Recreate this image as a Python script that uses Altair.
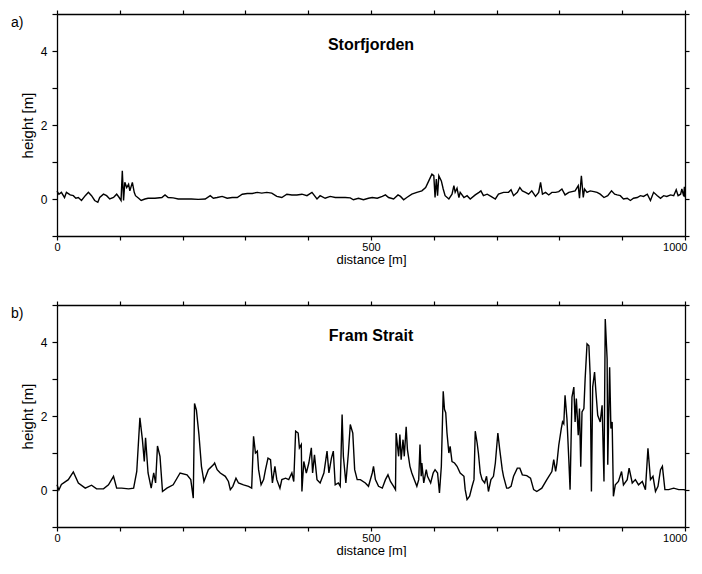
import altair as alt
import pandas as pd

# ---- Panel a: Storfjorden ----
dist_a = [0, 3, 7, 12, 15, 21, 26, 30, 34, 39,
          45, 50, 55, 60, 65, 68, 74, 79, 84, 90,
          95, 99, 102, 104, 106, 108, 111, 114, 116, 120,
          123, 125, 130, 134, 140, 145, 156, 167, 172, 177,
          185, 193, 204, 214, 225, 236, 244, 249, 255, 263,
          271, 279, 287, 295, 303, 311, 319, 326, 334, 342,
          350, 358, 366, 374, 382, 390, 398, 406, 414, 419,
          427, 435, 443, 451, 459, 467, 472, 480, 488, 496,
          502, 510, 518, 523, 528, 536, 543, 547, 552, 557,
          565, 573, 581, 587, 592, 597, 600, 602, 604, 606,
          608, 612, 615, 618, 624, 629, 632, 634, 637, 640,
          642, 648, 653, 658, 666, 672, 675, 679, 685, 691,
          698, 703, 711, 719, 723, 727, 733, 737, 741, 746,
          751, 756, 762, 767, 770, 773, 778, 783, 788, 794,
          799, 804, 809, 815, 820, 825, 830, 832, 835, 838,
          840, 844, 849, 855, 860, 865, 871, 877, 883, 888,
          892, 897, 902, 908, 913, 918, 924, 929, 934, 940,
          945, 950, 956, 961, 966, 971, 977, 982, 986, 989,
          993, 995, 998, 999, 1000]
height_a = [0.21, 0.13, 0.18, 0.04, 0.18, 0.11, 0.09, 0.02, 0.04, -0.04,
            0.09, 0.18, 0.09, -0.04, -0.09, 0.04, 0.13, 0.09, 0.00, 0.04,
            0.13, 0.04, -0.04, 0.76, -0.04, 0.45, 0.31, 0.40, 0.22, 0.45,
            0.18, 0.09, 0.02, -0.04, 0.00, 0.02, 0.02, 0.04, 0.11, 0.04,
            0.03, 0.00, 0.00, 0.00, -0.01, 0.00, 0.09, 0.02, 0.04, 0.07,
            0.02, 0.04, 0.04, 0.13, 0.15, 0.15, 0.18, 0.16, 0.18, 0.16,
            0.07, 0.04, 0.13, 0.11, 0.11, 0.13, 0.09, 0.18, 0.00, 0.09,
            0.02, 0.07, 0.04, 0.04, 0.04, 0.03, -0.02, 0.02, -0.02, 0.02,
            0.04, 0.02, 0.07, 0.11, 0.04, 0.00, 0.11, 0.07, -0.02, 0.04,
            0.13, 0.18, 0.22, 0.31, 0.49, 0.67, 0.63, 0.04, 0.54, 0.09,
            0.63, 0.49, 0.27, 0.09, 0.00, 0.13, 0.36, 0.18, 0.29, 0.04,
            0.18, 0.04, 0.09, 0.00, 0.11, 0.18, 0.22, 0.09, 0.13, 0.07,
            0.00, 0.13, 0.18, 0.18, 0.25, 0.09, 0.18, 0.31, 0.22, 0.18,
            0.13, 0.22, 0.07, 0.18, 0.45, 0.13, 0.18, 0.11, 0.18, 0.18,
            0.20, 0.27, 0.11, 0.18, 0.20, 0.22, 0.36, 0.02, 0.63, 0.04,
            0.27, 0.18, 0.22, 0.20, 0.18, 0.13, 0.04, 0.09, 0.22, 0.13,
            0.11, 0.09, 0.00, 0.02, -0.04, 0.02, 0.04, 0.09, 0.07, 0.13,
            -0.04, 0.18, 0.09, 0.02, 0.09, 0.07, 0.11, 0.09, 0.25, 0.09,
            0.13, 0.27, 0.07, 0.33, 0.05]

# ---- Panel b: Fram Strait ----
dist_b = [0, 3, 7, 18, 26, 34, 45, 55, 63, 74,
          82, 90, 95, 103, 114, 122, 127, 132, 136, 139,
          141, 145, 150, 154, 157, 160, 164, 168, 175, 185,
          196, 207, 213, 217, 219, 222, 226, 230, 234, 241,
          249, 251, 255, 260, 268, 273, 276, 280, 285, 289,
          297, 305, 310, 313, 316, 319, 321, 325, 329, 332,
          336, 340, 343, 347, 350, 355, 358, 364, 369, 374,
          377, 380, 384, 386, 389, 390, 393, 397, 401, 405,
          407, 410, 414, 419, 425, 430, 433, 437, 440, 443,
          448, 451, 454, 456, 460, 464, 467, 471, 474, 478,
          483, 491, 496, 502, 504, 507, 512, 518, 523, 527,
          531, 536, 539, 540, 544, 546, 548, 551, 553, 556,
          558, 562, 565, 569, 573, 576, 578, 580, 581, 584,
          588, 590, 595, 599, 602, 606, 609, 612, 615, 617,
          619, 621, 624, 626, 629, 633, 637, 642, 648, 650,
          653, 657, 661, 664, 666, 669, 671, 674, 677, 681,
          684, 687, 691, 695, 698, 702, 705, 709, 711, 716,
          719, 723, 727, 733, 737, 741, 748, 754, 759, 764,
          772, 780, 788, 791, 794, 796, 799, 803, 805, 807,
          809, 812, 815, 817, 820, 823, 825, 827, 830, 832,
          834, 836, 839, 841, 844, 847, 849, 851, 853, 856,
          858, 861, 865, 868, 871, 873, 876, 877, 880, 882,
          884, 886, 889, 894, 899, 902, 908, 911, 916, 921,
          926, 932, 937, 941, 945, 949, 953, 957, 961, 964,
          968, 974, 982, 990, 998, 1000]
height_b = [0.14, 0.00, 0.15, 0.28, 0.49, 0.19, 0.05, 0.13, 0.03, 0.03,
            0.14, 0.37, 0.05, 0.05, 0.03, 0.05, 0.50, 1.95, 1.36, 0.77,
            1.41, 0.46, 0.05, 0.46, 0.19, 1.19, 0.91, -0.04, 0.05, 0.14,
            0.46, 0.41, 0.28, -0.22, 2.34, 2.16, 1.50, 0.64, 0.23, 0.55,
            0.68, 0.73, 0.55, 0.46, 0.37, 0.23, 0.01, 0.10, 0.32, 0.19,
            0.14, 0.10, 0.05, 1.45, 1.00, 1.05, 0.55, 0.14, 0.28, 0.55,
            0.86, 0.82, 0.19, 0.64, 0.28, 0.05, 0.28, 0.32, 0.28, 0.46,
            0.23, 1.59, 1.54, 1.14, 1.23, -0.04, 0.77, 0.46, 0.73, 1.14,
            0.46, 0.95, 0.28, 0.19, 0.46, 1.05, 0.46, 0.86, 1.05, 0.14,
            0.19, 0.10, 2.04, 0.91, 0.19, 1.00, 1.77, 1.54, 0.55, 0.28,
            0.28, 0.19, 0.10, 0.46, 0.64, 0.28, 0.10, 0.05, 0.28, 0.41,
            0.23, 0.10, 0.01, 1.54, 0.91, 1.50, 0.82, 1.36, 0.91, 1.71,
            1.09, 0.64, 0.46, 0.28, 0.10, 0.28, 1.23, 0.37, 0.73, 0.19,
            0.55, 0.37, 0.19, 0.46, 0.55, 0.46, -0.08, 0.64, 2.67, 2.18,
            2.09, 1.54, 1.00, 1.18, 0.77, 0.73, 0.64, 0.46, 0.37, 0.01,
            -0.26, -0.17, 0.10, 0.28, 1.59, 1.27, 1.00, 0.46, 0.28, 0.19,
            0.37, -0.04, 0.28, 0.37, 0.73, 1.54, 1.09, 0.55, 0.37, 0.05,
            0.05, 0.10, 0.37, 0.59, 0.59, 0.41, 0.39, 0.32, 0.01, -0.04,
            0.05, 0.28, 0.50, 0.82, 0.50, 0.72, 1.21, 1.66, 1.84, 1.79,
            2.56, 1.93, 0.82, 0.01, 2.51, 2.78, 1.84, 2.47, 1.48, 2.20,
            0.63, 2.11, 2.20, 3.01, 3.95, 3.90, 3.10, -0.04, 2.78, 3.19,
            2.69, 2.02, 1.84, 2.29, 0.23, 4.62, 3.54, 0.68, 3.32, 1.66,
            1.84, -0.17, 0.14, 0.23, 0.50, 0.14, 0.28, 0.59, 0.19, 0.28,
            0.14, 0.23, 0.01, 1.13, 0.28, 0.37, -0.04, 0.10, 0.55, 0.64,
            0.01, 0.01, 0.05, 0.01, 0.01, 0.00]

panel_tags = ["a)", "b)"]
panel_names = ["Storfjorden", "Fram Strait"]
x_ticks = [0, 100, 200, 300, 400, 500, 600, 700, 800, 900, 1000]
y_ticks = [-1, 0, 1, 2, 3, 4, 5]

FONT = "Liberation Sans"
W, H = 628, 222

AX = dict(grid=False, domainColor="black", domainWidth=1.3, tickColor="black",
          tickWidth=1.2, labelColor="black", titleColor="black",
          labelFont=FONT, titleFont=FONT, titleFontWeight="normal")

# keep the last x label inside the page width
X_LABEL_ALIGN = {"condition": {"test": "datum.value === 1000", "value": "right"},
                 "value": "center"}
X_LABEL_OFFSET = {"condition": {"test": "datum.value === 1000", "value": 2},
                  "value": 0}


def panel(dist, height, tag, name):
    df = pd.DataFrame({"distance": dist, "height": height})
    xs = alt.Scale(domain=[0, 1000], nice=False, zero=False)
    ys = alt.Scale(domain=[-1, 5], nice=False, zero=False)
    line = alt.Chart(df).mark_line(color="black", strokeWidth=1.4).encode(
        x=alt.X("distance:Q", scale=xs, axis=alt.Axis(
            orient="bottom", values=x_ticks, title="distance [m]", format="d",
            labelExpr="datum.value % 500 === 0 ? datum.label : ''",
            labelFlush=False, labelOverlap=False, tickSize=4, labelPadding=1,
            labelAlign=X_LABEL_ALIGN, labelOffset=X_LABEL_OFFSET,
            labelFontSize=11, titleFontSize=13, titlePadding=1, **AX)),
        y=alt.Y("height:Q", scale=ys, axis=alt.Axis(
            orient="left", values=y_ticks, title="height [m]", format="d",
            labelExpr="(datum.value === 0 || datum.value === 2 || datum.value === 4) ? datum.label : ''",
            labelOverlap=False, tickSize=5, labelPadding=5, labelFontSize=12,
            titleFontSize=15, titlePadding=5, **AX)),
    )
    frame = alt.Chart(df).mark_point(opacity=0, size=1).encode(
        x=alt.X("distance:Q", scale=xs, axis=alt.Axis(
            orient="top", values=x_ticks, labels=False, title=None, tickSize=4, **AX)),
        y=alt.Y("height:Q", scale=ys, axis=alt.Axis(
            orient="right", values=y_ticks, labels=False, title=None, tickSize=4, **AX)),
    )
    tag_df = pd.DataFrame({"t": [tag]})
    tag_txt = alt.Chart(tag_df).mark_text(
        align="left", baseline="top", fontSize=14, font=FONT, color="black"
    ).encode(text="t:N", x=alt.value(-46), y=alt.value(2))
    name_df = pd.DataFrame({"t": [name], "distance": [500]})
    name_txt = alt.Chart(name_df).mark_text(
        align="center", baseline="middle", fontSize=16, fontWeight="bold",
        font=FONT, color="black"
    ).encode(text="t:N", x=alt.X("distance:Q", scale=xs, axis=None), y=alt.value(31))
    return alt.layer(line, frame, name_txt, tag_txt).resolve_axis(
        x="independent", y="independent"
    ).properties(width=W, height=H)


chart = alt.vconcat(
    panel(dist_a, height_a, panel_tags[0], panel_names[0]),
    panel(dist_b, height_b, panel_tags[1], panel_names[1]),
    spacing=33,
).properties(
    padding={"left": 3, "top": 0, "right": 0, "bottom": 0},
    background="white",
).configure_view(stroke=None)

chart.save("out.html", embed_options={"renderer": "svg", "actions": False})
